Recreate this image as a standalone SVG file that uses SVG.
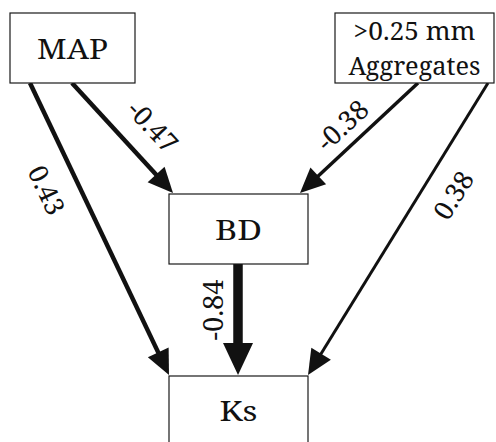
<svg xmlns="http://www.w3.org/2000/svg" width="496" height="442" viewBox="0 0 496 442">
  <style>
    text { font-family: "Noto Serif", "DejaVu Serif", serif; fill: #111111; text-anchor: middle; dominant-baseline: central; }
    .box { fill: #ffffff; stroke: #1a1a1a; stroke-width: 1.2; }
    .lbl { font-size: 28px; }
    .lbl2 { font-size: 26px; }
    .coef { font-size: 26.5px; }
    .edge { stroke: #111111; fill: none; stroke-linecap: butt; }
    .tip { fill: #111111; }
  </style>
  <defs>
    <!-- arrowheads, tip at the origin, pointing along +x -->
    <path id="head" class="tip" d="M0,0 L-25,-11.5 L-25,11.5 Z"/>
    <path id="headBig" class="tip" d="M0,0 L-32,-15 L-32,15 Z"/>
  </defs>

  <!-- path coefficients -->
  <g id="connectors">
    <line class="edge" x1="72" y1="83" x2="158.1" y2="176.8" stroke-width="4.5"/>
    <use href="#head" transform="translate(173,193) rotate(47.44)"/>

    <line class="edge" x1="30" y1="83" x2="159.5" y2="355.1" stroke-width="4.5"/>
    <use href="#head" transform="translate(169,375) rotate(64.54)"/>

    <line class="edge" x1="418" y1="83" x2="316.1" y2="178.0" stroke-width="3.5"/>
    <use href="#head" transform="translate(300,193) rotate(137.0)"/>

    <line class="edge" x1="488" y1="83" x2="319.5" y2="356.3" stroke-width="3"/>
    <use href="#head" transform="translate(308,375) rotate(121.65)"/>

    <line class="edge" x1="238" y1="264" x2="238" y2="346" stroke-width="9.5"/>
    <use href="#headBig" transform="translate(238,375) rotate(90)"/>

    <text class="coef" transform="translate(153,126) rotate(47)" textLength="60" lengthAdjust="spacingAndGlyphs">-0.47</text>
    <text class="coef" transform="translate(47,190) rotate(64.5)" textLength="51" lengthAdjust="spacingAndGlyphs">0.43</text>
    <text class="coef" transform="translate(342,125) rotate(-43)" textLength="60" lengthAdjust="spacingAndGlyphs">-0.38</text>
    <text class="coef" transform="translate(453,195) rotate(-58)" textLength="51" lengthAdjust="spacingAndGlyphs">0.38</text>
    <text class="coef" transform="translate(213,310) rotate(-90)" textLength="61" lengthAdjust="spacingAndGlyphs">-0.84</text>
  </g>

  <g id="node-map">
    <rect class="box" x="10" y="13" width="125" height="70"/>
    <text class="lbl" x="72.5" y="48" textLength="71" lengthAdjust="spacingAndGlyphs">MAP</text>
  </g>

  <g id="node-aggregates">
    <rect class="box" x="335" y="13" width="159" height="70"/>
    <text class="lbl2" x="414.5" y="30" textLength="122" lengthAdjust="spacingAndGlyphs">&gt;0.25 mm</text>
    <text class="lbl2" x="414.5" y="65" textLength="132" lengthAdjust="spacingAndGlyphs">Aggregates</text>
  </g>

  <g id="node-bd">
    <rect class="box" x="169" y="194" width="139" height="70"/>
    <text class="lbl" x="238.5" y="229" textLength="47" lengthAdjust="spacingAndGlyphs">BD</text>
  </g>

  <g id="node-ks">
    <rect class="box" x="169" y="376" width="139" height="80"/>
    <text class="lbl" x="238.5" y="410" textLength="38" lengthAdjust="spacingAndGlyphs">Ks</text>
  </g>
</svg>
